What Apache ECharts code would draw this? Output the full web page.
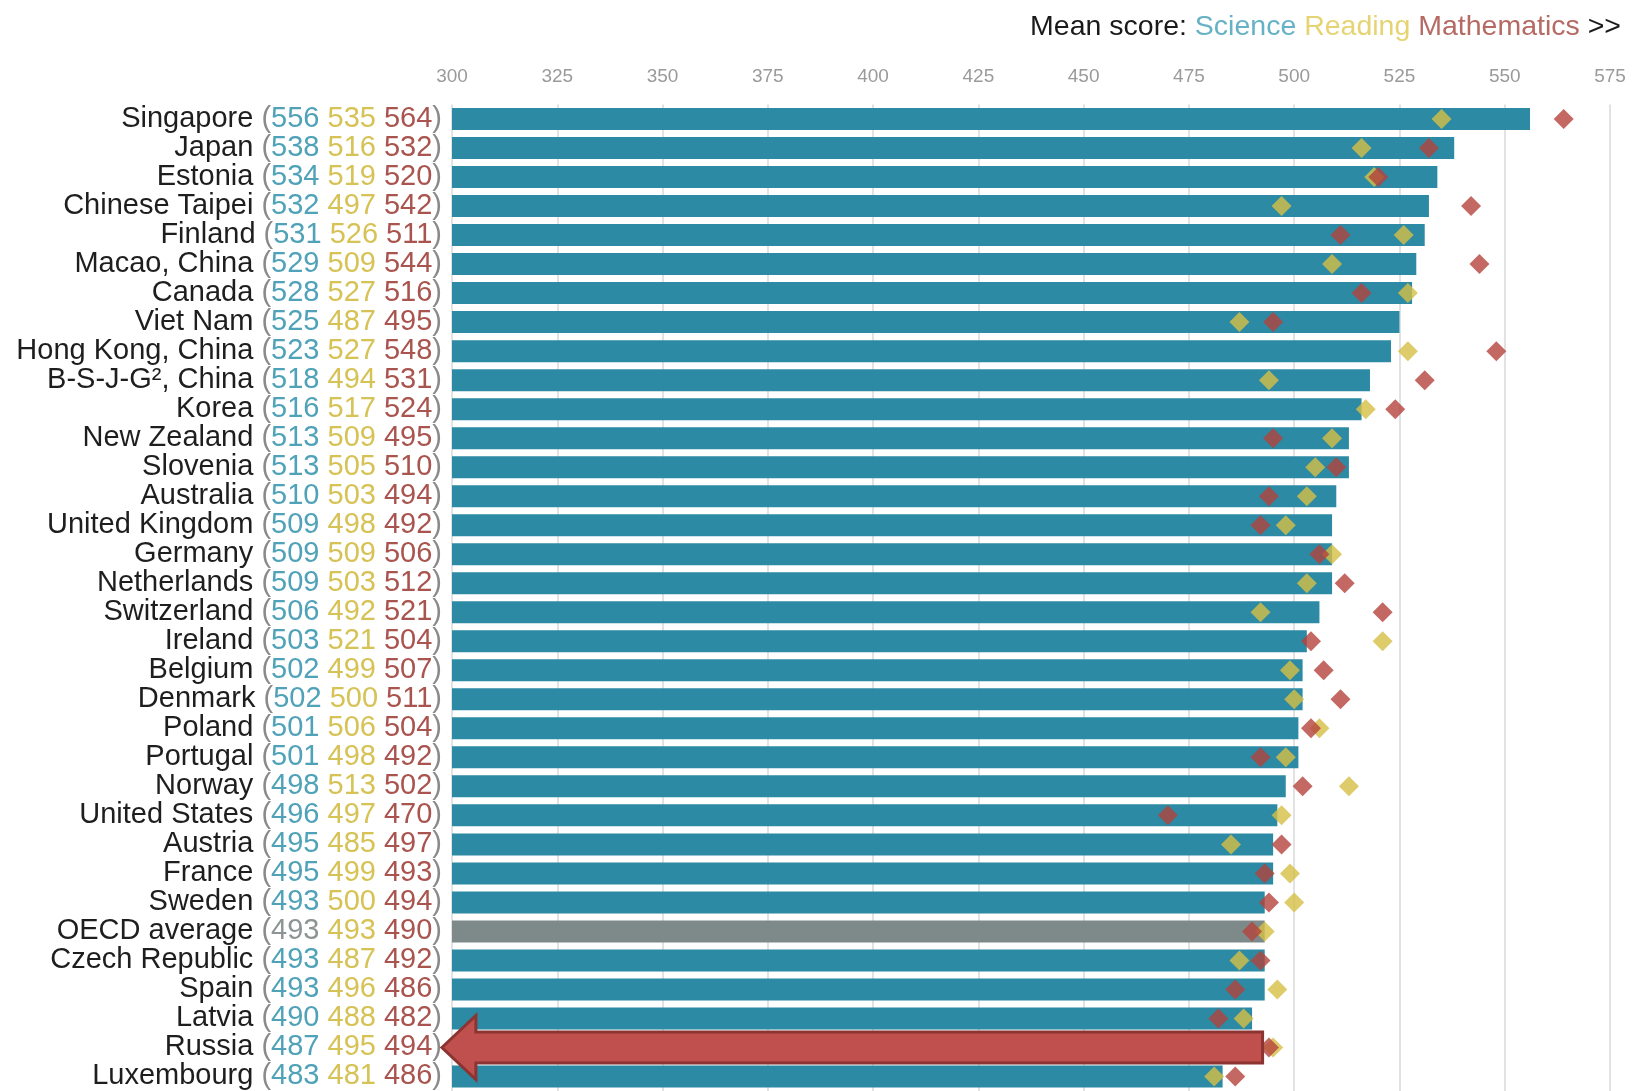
<!DOCTYPE html>
<html>
<head>
<meta charset="utf-8">
<script src="https://cdn.jsdelivr.net/npm/echarts@6/dist/echarts.min.js"></script>
<style>
html,body{margin:0;padding:0;background:#fff;}
#chart{width:1632px;height:1091px;}
</style>
</head>
<body>
<div id="chart"></div>
<script>
const countries = ["Singapore","Japan","Estonia","Chinese Taipei","Finland","Macao, China","Canada","Viet Nam","Hong Kong, China","B-S-J-G², China","Korea","New Zealand","Slovenia","Australia","United Kingdom","Germany","Netherlands","Switzerland","Ireland","Belgium","Denmark","Poland","Portugal","Norway","United States","Austria","France","Sweden","OECD average","Czech Republic","Spain","Latvia","Russia","Luxembourg"];
const science = [556,538,534,532,531,529,528,525,523,518,516,513,513,510,509,509,509,506,503,502,502,501,501,498,496,495,495,493,493,493,493,490,487,483];
const reading = [535,516,519,497,526,509,527,487,527,494,517,509,505,503,498,509,503,492,521,499,500,506,498,513,497,485,499,500,493,487,496,488,495,481];
const maths   = [564,532,520,542,511,544,516,495,548,531,524,495,510,494,492,506,512,521,504,507,511,504,492,502,470,497,493,494,490,492,486,482,494,486];
const xTicks = {min:300, max:575, interval:25};
const highlighted = "OECD average";
const arrowTarget = "Russia";
const arrowTailValue = 492.5;

const FONT = "'Liberation Sans', Arial, sans-serif";
const chart = echarts.init(document.getElementById('chart'));

const barData = science.map((v,i)=> countries[i]===highlighted
  ? {value:v, itemStyle:{color:'#7e8a8a'}} : v);

const TS = 28.5, LS = 29;
const option = {
  backgroundColor:'#fff',
  animation:false,
  title:{
    right:6, top:8,
    text:'{a|Mean score: }{s|Science }{r|Reading }{m|Mathematics }{a|>>}',
    textStyle:{
      fontFamily:FONT, fontSize:TS, fontWeight:'normal',
      rich:{
        a:{fontFamily:FONT,fontSize:TS,color:'#1a1a1a',fontWeight:'normal'},
        s:{fontFamily:FONT,fontSize:TS,color:'#66b1c6',fontWeight:'normal'},
        r:{fontFamily:FONT,fontSize:TS,color:'#e6d473',fontWeight:'normal'},
        m:{fontFamily:FONT,fontSize:TS,color:'#b56a64',fontWeight:'normal'}
      }
    }
  },
  grid:{left:452, right:22, top:104.5, height:989, containLabel:false},
  xAxis:{
    type:'value', position:'top', min:xTicks.min, max:xTicks.max, interval:xTicks.interval,
    axisLine:{show:false}, axisTick:{show:false},
    axisLabel:{color:'#9a9a9a', fontSize:19, fontFamily:FONT, margin:18},
    splitLine:{show:true, lineStyle:{color:'#e2e2e2', width:2}}
  },
  yAxis:{
    type:'category', inverse:true, data:countries,
    axisLine:{show:false}, axisTick:{show:false},
    axisLabel:{
      margin:10, interval:0, fontSize:LS, fontFamily:FONT,
      formatter:function(val){
        const i = countries.indexOf(val);
        const sKey = val===highlighted ? 'g' : 's';
        return '{n|'+val+' }{p|(}{'+sKey+'|'+science[i]+' }{r|'+reading[i]+' }{m|'+maths[i]+'}{p|)}';
      },
      rich:{
        n:{fontFamily:FONT,fontSize:LS,color:'#1e1e1e'},
        p:{fontFamily:FONT,fontSize:LS,color:'#8a8a8a'},
        s:{fontFamily:FONT,fontSize:LS,color:'#4fa2b8'},
        g:{fontFamily:FONT,fontSize:LS,color:'#8c9494'},
        r:{fontFamily:FONT,fontSize:LS,color:'#d6c255'},
        m:{fontFamily:FONT,fontSize:LS,color:'#a9544e'}
      }
    }
  },
  series:[
    {name:'Science', type:'bar', data:barData, barWidth:22, itemStyle:{color:'#2c8aa4'}, z:2},
    {name:'Reading', type:'scatter', data:reading, symbol:'diamond', symbolSize:20,
      itemStyle:{color:'#d6bf45'}, z:3},
    {name:'Mathematics', type:'scatter', data:maths, symbol:'diamond', symbolSize:20,
      itemStyle:{color:'#b4423c'}, z:4}
  ]
};
chart.setOption(option);

// Annotation arrow pointing at the highlighted row
const tail = chart.convertToPixel({xAxisIndex:0,yAxisIndex:0},[arrowTailValue, arrowTarget]);
const tipPt = chart.convertToPixel({xAxisIndex:0,yAxisIndex:0},[297.6, arrowTarget]);
const cy = tail[1], xr = tail[0], xt = tipPt[0];
const headLen = 34, bodyH = 15.5, headH = 32;
chart.setOption({
  graphic:[{
    type:'polygon', z:100,
    shape:{points:[[xt,cy],[xt+headLen,cy-headH],[xt+headLen,cy-bodyH],[xr,cy-bodyH],[xr,cy+bodyH],[xt+headLen,cy+bodyH],[xt+headLen,cy+headH]]},
    style:{fill:'#c0504d', stroke:'#8c3431', lineWidth:3, lineJoin:'miter'}
  }]
});
</script>
</body>
</html>
